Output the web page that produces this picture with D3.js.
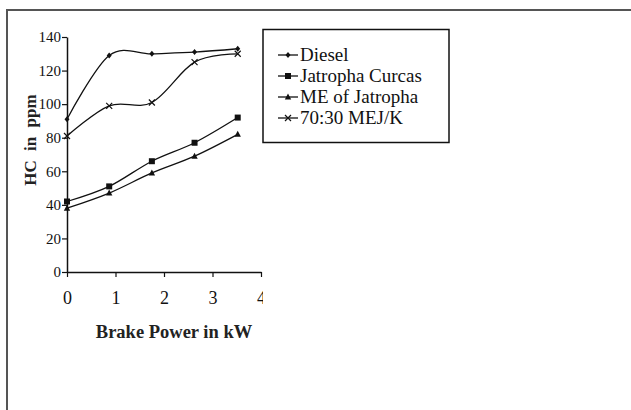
<!DOCTYPE html>
<html>
<head>
<meta charset="utf-8">
<script src="https://cdn.jsdelivr.net/npm/d3@7"></script>
<style>
  body { margin: 0; background: #fff; }
  svg text { font-family: "Liberation Serif", "DejaVu Serif", "Times New Roman", serif; }
</style>
</head>
<body>
<div class="viewbox"></div>
<script>
// brake power (kW) and HC readings
const power = [0, 0.87, 1.75, 2.63, 3.52];
const diesel = [91, 129, 130, 131, 133];
const jatropha = [42, 51, 66, 77, 92];
const meJatropha = [38, 47, 59, 69, 82];
const blend7030 = [81, 99, 101, 125, 130];
const seriesNames = ["Diesel", "Jatropha Curcas", "ME of Jatropha", "70:30 MEJ/K"];
const markerTypes = ["diamond", "square", "triangle", "cross"];
const xTicks = [0, 1, 2, 3, 4];
const yTicks = [0, 20, 40, 60, 80, 100, 120, 140];

const svg_width = 631, svg_height = 410;
const SERIF = "'Liberation Serif', 'DejaVu Serif', 'Times New Roman', serif";

let svg = d3.select(".viewbox").append("svg")
  .attr("width", svg_width)
  .attr("height", svg_height);

// outer frame (runs off the right/bottom edge like the original scan)
svg.append("rect")
  .attr("x", 7).attr("y", 10)
  .attr("width", 640).attr("height", 420)
  .attr("fill", "none").attr("stroke", "#555").attr("stroke-width", 2);

let x = d3.scaleLinear().domain([0, 4]).range([67, 261]);
let y = d3.scaleLinear().domain([0, 140]).range([272, 37]);

// clip so the "4" gets cut like in the picture
svg.append("clipPath").attr("id", "plotclip")
  .append("rect").attr("x", 0).attr("y", 0).attr("width", 263).attr("height", 410);

let axes = svg.append("g").attr("clip-path", "url(#plotclip)");

let yAxis = axes.append("g")
  .attr("transform", "translate(67,0)")
  .call(d3.axisLeft(y).tickValues(yTicks).tickFormat(d3.format("d")).tickSize(5).tickPadding(1).tickSizeOuter(0))
  .attr("font-family", SERIF).attr("font-size", 15);
yAxis.selectAll("text").attr("fill", "#111");

let xAxis = axes.append("g")
  .attr("transform", "translate(0,272)")
  .call(d3.axisBottom(x).tickValues(xTicks).tickFormat(d3.format("d")).tickSize(5).tickPadding(14).tickSizeOuter(0))
  .attr("font-family", SERIF).attr("font-size", 18);
xAxis.selectAll("text").attr("fill", "#111");

[yAxis, xAxis].forEach(a => {
  a.select(".domain").attr("stroke", "#111").attr("stroke-width", 1.5);
  a.selectAll(".tick line").attr("stroke", "#111").attr("stroke-width", 1.2);
});

// axis titles
svg.append("text")
  .attr("x", 174).attr("y", 338)
  .attr("text-anchor", "middle")
  .attr("font-family", SERIF)
  .style("font-size", "18.5px").style("font-weight", "bold")
  .attr("fill", "#222")
  .text("Brake Power in kW");

svg.append("text")
  .attr("transform", "translate(36,140) rotate(-90)")
  .attr("text-anchor", "middle")
  .attr("font-family", SERIF)
  .style("font-size", "17px").style("font-weight", "bold")
  .style("word-spacing", "5px")
  .attr("fill", "#222")
  .text("HC in ppm");

function marker(g, type, cx, cy) {
  if (type === "diamond") {
    g.append("path").attr("d", `M${cx},${cy - 3}L${cx + 2.5},${cy}L${cx},${cy + 3}L${cx - 2.5},${cy}Z`).attr("fill", "#111");
  } else if (type === "square") {
    g.append("rect").attr("x", cx - 3).attr("y", cy - 3).attr("width", 6).attr("height", 6).attr("fill", "#111");
  } else if (type === "triangle") {
    g.append("path").attr("d", `M${cx},${cy - 3.5}L${cx + 3.2},${cy + 2.5}L${cx - 3.2},${cy + 2.5}Z`).attr("fill", "#111");
  } else {
    g.append("path").attr("d", `M${cx - 3},${cy - 3}L${cx + 3},${cy + 3}M${cx - 3},${cy + 3}L${cx + 3},${cy - 3}`)
      .attr("stroke", "#111").attr("stroke-width", 1.2);
  }
}

const allSeries = [diesel, jatropha, meJatropha, blend7030];

let line = d3.line()
  .x(d => x(d[0]))
  .y(d => y(d[1]))
  .curve(d3.curveCardinal.tension(0));

allSeries.forEach((vals, i) => {
  let pts = power.map((p, j) => [p, vals[j]]);
  svg.append("path")
    .attr("d", line(pts))
    .attr("fill", "none")
    .attr("stroke", "#111")
    .attr("stroke-width", 1.3);
  let g = svg.append("g");
  pts.forEach(p => marker(g, markerTypes[i], x(p[0]), y(p[1])));
});

// legend
let legend = svg.append("g");
legend.append("rect")
  .attr("x", 263).attr("y", 29.5)
  .attr("width", 186).attr("height", 113)
  .attr("fill", "#fff").attr("stroke", "#111").attr("stroke-width", 1.5);

seriesNames.forEach((name, i) => {
  let ly = 55 + i * 21;
  legend.append("line")
    .attr("x1", 278).attr("x2", 298).attr("y1", ly).attr("y2", ly)
    .attr("stroke", "#111").attr("stroke-width", 1.3);
  marker(legend, markerTypes[i], 288, ly);
  legend.append("text")
    .attr("x", 300).attr("y", ly + 6)
    .attr("font-family", SERIF)
    .style("font-size", "19px")
    .attr("fill", "#111")
    .text(name);
});
</script>
</body>
</html>
